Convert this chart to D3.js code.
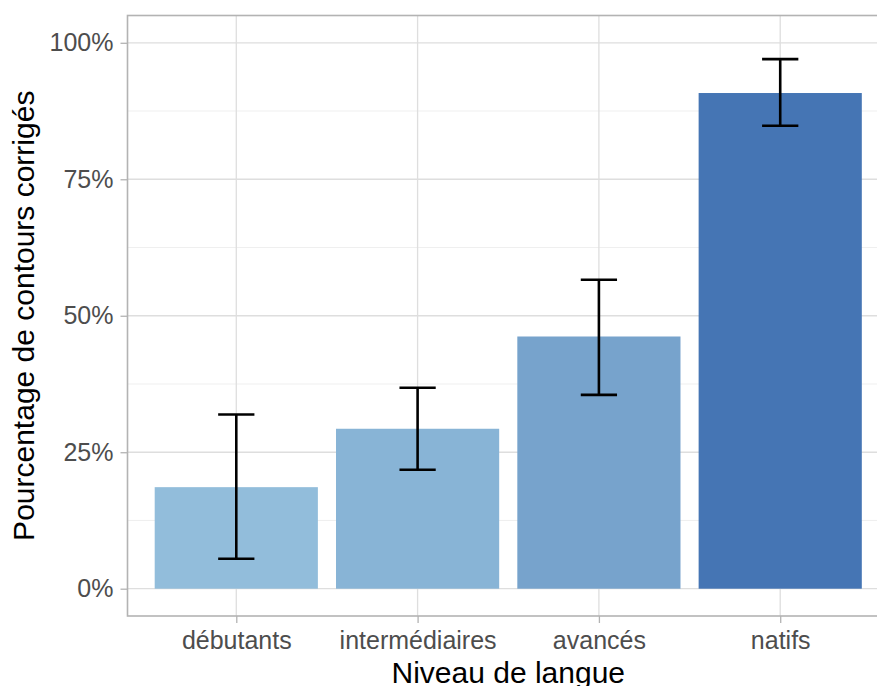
<!DOCTYPE html>
<html><head><meta charset="utf-8">
<script src="https://cdn.jsdelivr.net/npm/d3@7"></script>
<style>body{margin:0;background:#fff}svg{display:block;font-family:"Liberation Sans",Arial,sans-serif}</style>
</head><body><svg id="c" width="877" height="686"></svg>
<script>
const categories = ["débutants","intermédiaires","avancés","natifs"];
const values = [0.186, 0.293, 0.462, 0.908];
const errLow = [0.055, 0.218, 0.355, 0.848];
const errHigh = [0.319, 0.368, 0.566, 0.970];
const colors = ["#92bddb","#88b4d6","#77a3cc","#4575b4"];
const yTicks = [0, 0.25, 0.5, 0.75, 1];
const yMinor = [0.125, 0.375, 0.625, 0.875];

const svg = d3.select("#c");
const L = 127.5, R = 889, T = 15.5, B = 616;
// discrete axis with 0.6 expansion on each side
const step = (R - L) / (categories.length - 1 + 1.2);
const xs = d3.scalePoint().domain(categories).range([L + step * 0.6, R - step * 0.6]);
const y = d3.scaleLinear().domain([-0.05, 1.05]).range([B, T]);

const g = svg.append("g");
g.selectAll(".mn").data(yMinor).join("line")
  .attr("x1", L).attr("x2", 877).attr("y1", d => y(d)).attr("y2", d => y(d))
  .attr("stroke", "#ebebeb").attr("stroke-width", 0.8);
g.selectAll(".mj").data(yTicks).join("line")
  .attr("x1", L).attr("x2", 877).attr("y1", d => y(d)).attr("y2", d => y(d))
  .attr("stroke", "#dedede").attr("stroke-width", 1.3);
g.selectAll(".vx").data(categories).join("line")
  .attr("x1", d => xs(d)).attr("x2", d => xs(d)).attr("y1", T).attr("y2", B)
  .attr("stroke", "#dedede").attr("stroke-width", 1.3);

const bw = step * 0.9;
g.selectAll(".bar").data(categories).join("rect")
  .attr("x", d => xs(d) - bw / 2).attr("width", bw)
  .attr("y", (d, i) => y(values[i])).attr("height", (d, i) => y(0) - y(values[i]))
  .attr("fill", (d, i) => colors[i]);

const cw = step * 0.2;
categories.forEach((c, i) => {
  const cx = xs(c);
  const eg = g.append("g").attr("stroke", "#000").attr("stroke-width", 2.6);
  eg.append("line").attr("x1", cx).attr("x2", cx).attr("y1", y(errLow[i])).attr("y2", y(errHigh[i]));
  eg.append("line").attr("x1", cx - cw / 2).attr("x2", cx + cw / 2).attr("y1", y(errLow[i])).attr("y2", y(errLow[i]));
  eg.append("line").attr("x1", cx - cw / 2).attr("x2", cx + cw / 2).attr("y1", y(errHigh[i])).attr("y2", y(errHigh[i]));
});

g.append("rect").attr("x", L).attr("y", T).attr("width", R - L).attr("height", B - T)
  .attr("fill", "none").attr("stroke", "#b3b3b3").attr("stroke-width", 1.6);

const tickFont = "25px";
const yAxis = d3.axisLeft(y).tickValues(yTicks).tickSize(7).tickPadding(7).tickFormat(d3.format(".0%"));
const ya = svg.append("g").attr("transform", `translate(${L},0)`).call(yAxis);
ya.select(".domain").remove();
ya.selectAll(".tick line").attr("stroke", "#b3b3b3").attr("stroke-width", 1.3);
ya.selectAll(".tick text").attr("fill", "#4d4d4d").style("font-size", tickFont).style("font-family", "'Liberation Sans',Arial,sans-serif");

const xAxis = d3.axisBottom(xs).tickSize(7).tickPadding(6);
const xa = svg.append("g").attr("transform", `translate(0,${B})`).call(xAxis);
xa.select(".domain").remove();
xa.selectAll(".tick line").attr("stroke", "#b3b3b3").attr("stroke-width", 1.3);
xa.selectAll(".tick text").attr("fill", "#4d4d4d").style("font-size", tickFont).style("font-family", "'Liberation Sans',Arial,sans-serif")
  .attr("dy", null).attr("y", 33);

svg.append("text").attr("x", (L + R) / 2).attr("y", 683).attr("text-anchor", "middle")
  .style("font-size", "30px").attr("fill", "#000").text("Niveau de langue");
svg.append("text").attr("transform", `translate(34,${(T + B) / 2}) rotate(-90)`).attr("text-anchor", "middle")
  .style("font-size", "30px").attr("fill", "#000").text("Pourcentage de contours corrigés");
</script></body></html>
